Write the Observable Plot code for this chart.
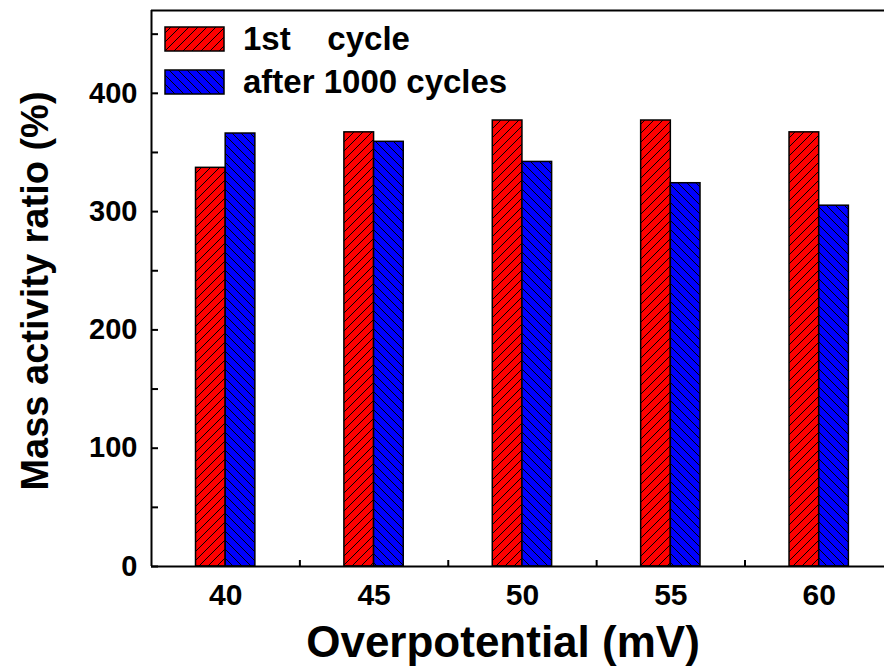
<!DOCTYPE html>
<html><head><meta charset="utf-8">
<script src="https://cdn.jsdelivr.net/npm/d3@7"></script>
<script src="https://cdn.jsdelivr.net/npm/@observablehq/plot@0.6"></script>
<style>
body{margin:0;background:#fff}
#chart{position:relative;width:884px;height:667px}
</style>
</head><body><div id="chart"></div>
<script>
// ---- data ----
const overpotential = [40, 45, 50, 55, 60];
const firstCycle = [337, 367, 377, 377, 367];
const after1000 = [366, 359, 342, 324, 305];
const seriesNames = ["1st    cycle", "after 1000 cycles"];
const xTickLabels = [40, 45, 50, 55, 60];
const yTickLabels = [0, 100, 200, 300, 400];
const xTicksAll = [40, 42.5, 45, 47.5, 50, 52.5, 55, 57.5, 60];
const yTicksAll = [0, 50, 100, 150, 200, 250, 300, 350, 400, 450];
const xDomain = [37.5, 62.2];
const yDomain = [0, 470];
const barWidth = 1; // in mV units
const xLabel = "Overpotential (mV)";
const yLabel = "Mass activity ratio (%)";

const redBars = overpotential.map((x, i) => ({x1: x - barWidth, x2: x, v: firstCycle[i]}));
const blueBars = overpotential.map((x, i) => ({x1: x, x2: x + barWidth, v: after1000[i]}));

const font = "'Liberation Sans', Arial, sans-serif";

const chart = Plot.plot({
  width: 884,
  height: 667,
  marginLeft: 151,
  marginRight: 0,
  marginTop: 10,
  marginBottom: 101,
  style: {fontFamily: font, fontWeight: "bold", background: "white", overflow: "visible"},
  x: {type: "linear", domain: xDomain, ticks: xTicksAll, tickSize: -6, tickFormat: () => "", label: null},
  y: {domain: yDomain, ticks: yTicksAll, tickSize: -7, tickFormat: () => "", label: null},
  marks: [
    Plot.rect(redBars, {x1: "x1", x2: "x2", y1: 0, y2: "v", fill: "url(#hatchRed)", stroke: "black", strokeWidth: 1.5}),
    Plot.rect(blueBars, {x1: "x1", x2: "x2", y1: 0, y2: "v", fill: "url(#hatchBlue)", stroke: "black", strokeWidth: 1.5}),
    Plot.ruleY([yDomain[0], yDomain[1]], {stroke: "black", strokeWidth: 2}),
    Plot.ruleX([xDomain[0]], {stroke: "black", strokeWidth: 2}),
    Plot.text(yTickLabels, {x: xDomain[0], y: d => d, text: d => String(d), textAnchor: "end", dx: -14, fontSize: 29, fontWeight: "bold", fill: "black"}),
    Plot.text(xTickLabels, {x: d => d, y: yDomain[0], text: d => String(d), dy: 29, fontSize: 30, fontWeight: "bold", fill: "black"})
  ]
});

document.getElementById("chart").appendChild(chart);
const svg = d3.select(chart.tagName.toLowerCase() === "svg" ? chart : chart.querySelector("svg"));

// patterns
const defs = svg.insert("defs", ":first-child");
function hatch(id, color, forward) {
  const s = 9;
  const p = defs.append("pattern").attr("id", id).attr("patternUnits", "userSpaceOnUse")
    .attr("width", s).attr("height", s);
  p.append("rect").attr("width", s).attr("height", s).attr("fill", color);
  const d = forward
    ? `M-2,2 L2,-2 M0,${s} L${s},0 M${s-2},${s+2} L${s+2},${s-2}`
    : `M-2,${s-2} L2,${s+2} M0,0 L${s},${s} M${s-2},-2 L${s+2},2`;
  p.append("path").attr("d", d).attr("stroke", "black").attr("stroke-width", 1);
}
hatch("hatchRed", "#ff0000", true);
hatch("hatchBlue", "#0000ff", false);

// thicker ticks
svg.selectAll("[aria-label*='axis'] line, [aria-label*='tick'] path, .tick line").attr("stroke-width", 2).attr("stroke", "black");

// axis titles
svg.append("text").attr("x", 503).attr("y", 657).attr("text-anchor", "middle")
  .attr("font-size", 44).attr("font-weight", "bold").attr("font-family", font).attr("fill", "black").text(xLabel);
svg.append("text").attr("transform", "translate(48,291) rotate(-90)").attr("text-anchor", "middle")
  .attr("font-size", 38).attr("font-weight", "bold").attr("font-family", font).attr("fill", "black").text(yLabel);

// legend
const legend = svg.append("g");
const fills = ["url(#hatchRed)", "url(#hatchBlue)"];
const legY = [27, 70];
seriesNames.forEach((name, i) => {
  legend.append("rect").attr("x", 165).attr("y", legY[i]).attr("width", 59).attr("height", 24)
    .attr("fill", fills[i]).attr("stroke", "black").attr("stroke-width", 1.5);
  legend.append("text").attr("x", 243).attr("y", legY[i] + 23).attr("font-size", 33)
    .attr("text-anchor", "start")
    .attr("font-weight", "bold").attr("font-family", font).attr("fill", "black")
    .style("white-space", "pre").attr("xml:space", "preserve").text(name);
});
</script>
</body></html>
